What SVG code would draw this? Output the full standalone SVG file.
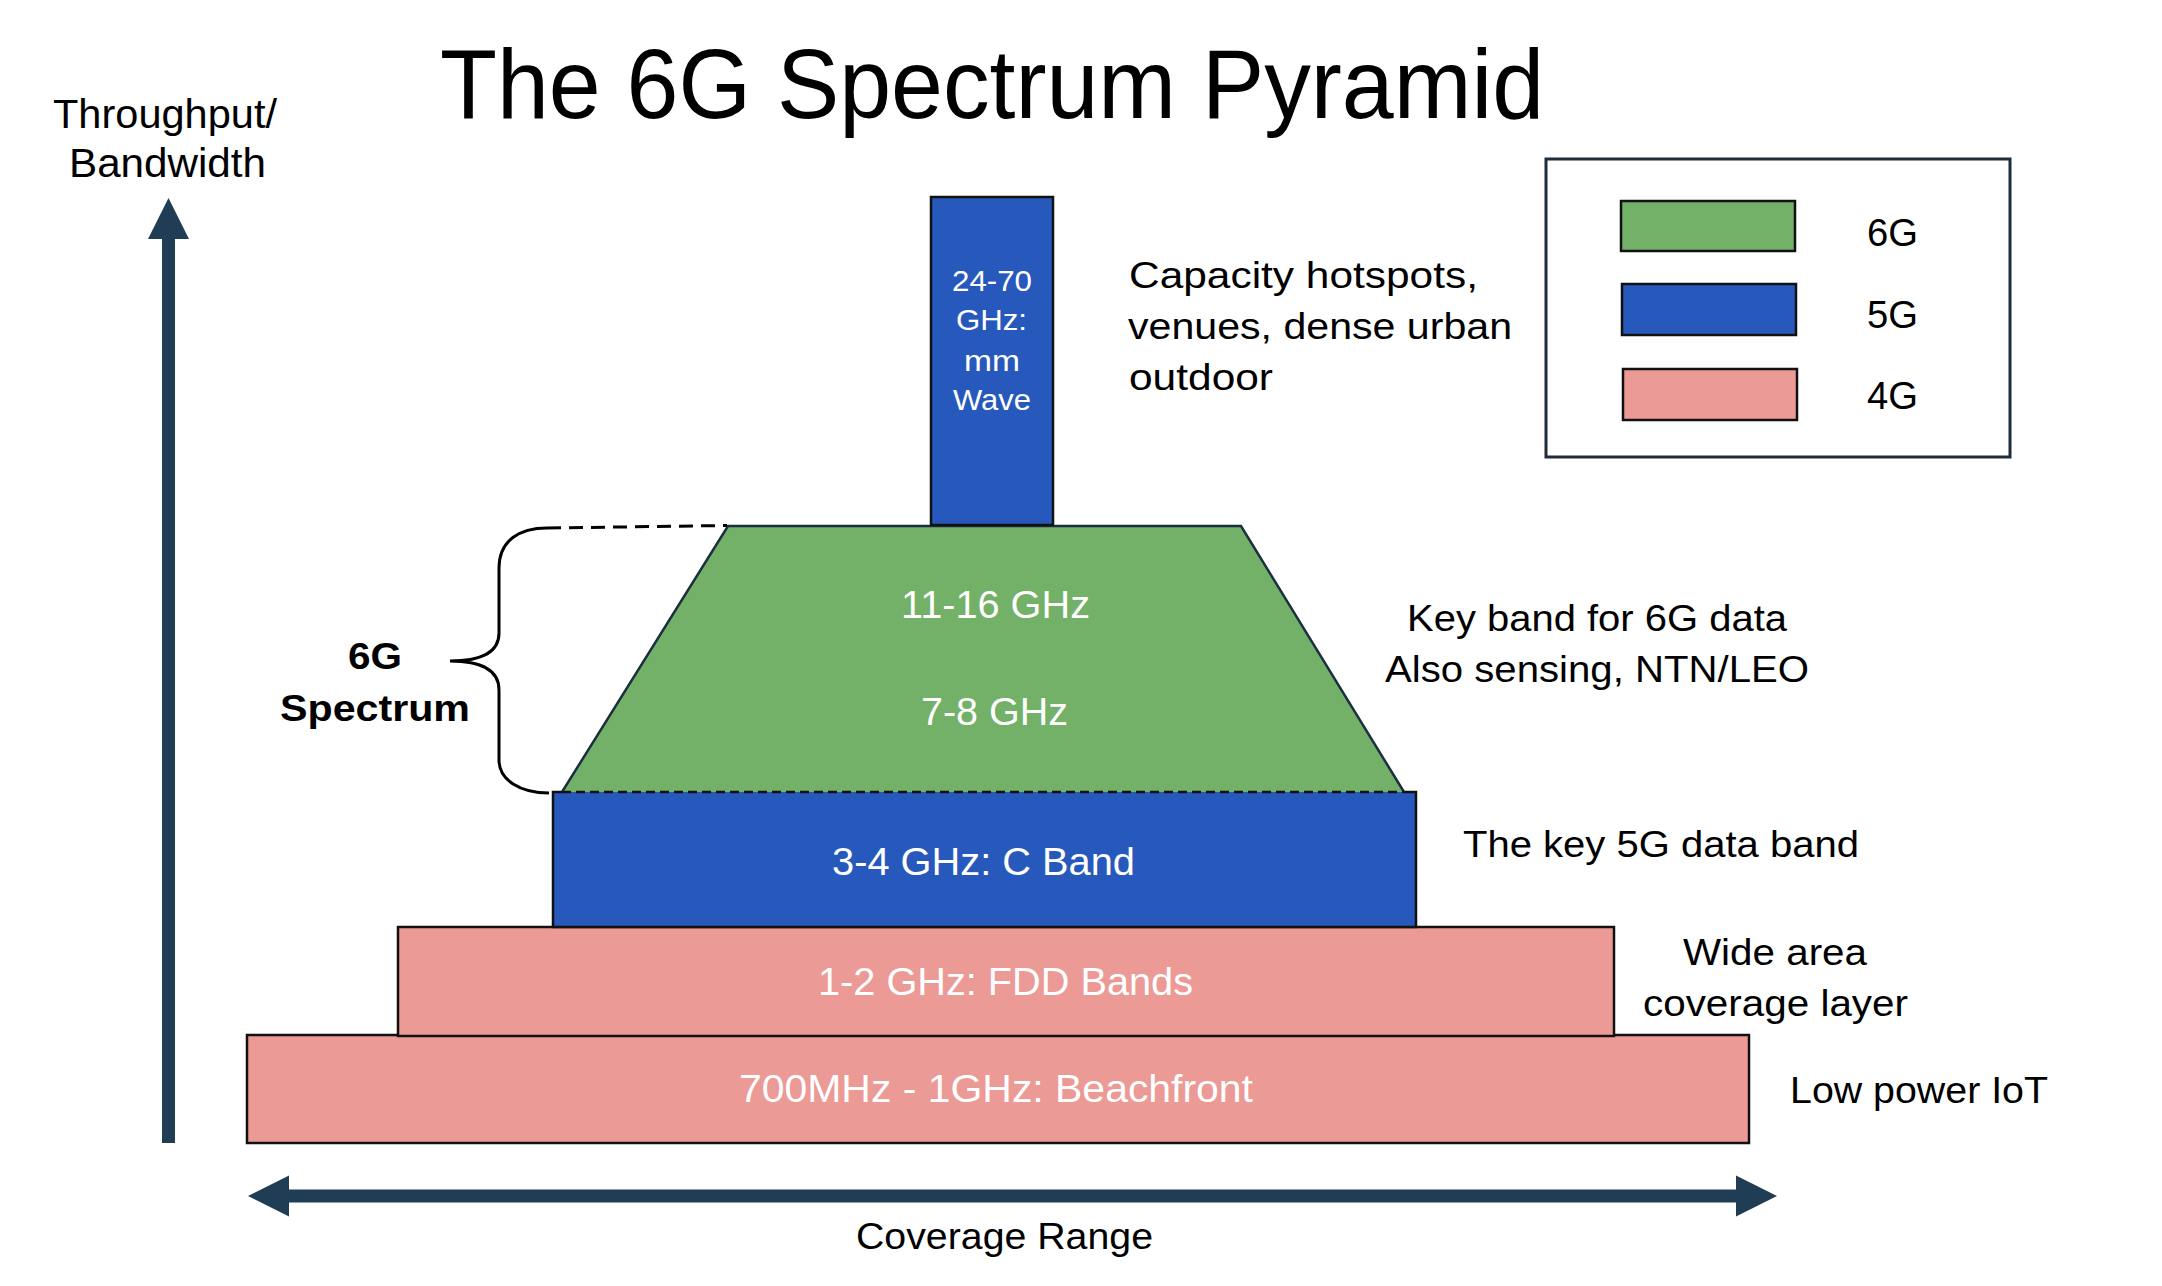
<svg xmlns="http://www.w3.org/2000/svg" width="2162" height="1286" viewBox="0 0 2162 1286">
<style>
  text { font-family: "Liberation Sans", Arial, sans-serif; fill: #000; }
  .w { fill: #ffffff; font-size: 38px; }
  .mm { fill: #ffffff; font-size: 30px; }
  .lbl { font-size: 37px; }
  .g6 { fill: #72b167; }
  .g5 { fill: #2759bd; }
  .g4 { fill: #eb9a96; }
  .edge { stroke: #111; stroke-width: 2.5; }
  .axis { stroke: #213d55; stroke-width: 13; fill: none; }
</style>
<defs>
  <marker id="ah" markerUnits="userSpaceOnUse" markerWidth="42" markerHeight="42" refX="0" refY="20.5" orient="auto-start-reverse" viewBox="0 0 42 41">
    <path d="M0,0 L41,20.5 L0,41 z" fill="#213d55"/>
  </marker>
</defs>
<rect width="2162" height="1286" fill="#ffffff"/>

<text id="title" x="440" y="118" font-size="99" textLength="1104" lengthAdjust="spacingAndGlyphs">The 6G Spectrum Pyramid</text>

<g id="axes">
  <line class="axis" x1="168.5" y1="1143" x2="168.5" y2="239" marker-end="url(#ah)"/>
  <line class="axis" x1="289" y1="1196" x2="1736" y2="1196" marker-start="url(#ah)" marker-end="url(#ah)"/>
  <text x="53" y="128" font-size="41" textLength="224" lengthAdjust="spacingAndGlyphs">Throughput/</text>
  <text x="69" y="177" font-size="41" textLength="197" lengthAdjust="spacingAndGlyphs">Bandwidth</text>
  <text class="lbl" x="856" y="1249" textLength="297" lengthAdjust="spacingAndGlyphs">Coverage Range</text>
</g>

<g id="band-700mhz">
  <rect class="g4 edge" x="247" y="1035" width="1502" height="108"/>
  <text class="w" x="739" y="1102" textLength="514" lengthAdjust="spacingAndGlyphs">700MHz - 1GHz: Beachfront</text>
</g>

<g id="band-fdd">
  <rect class="g4 edge" x="398" y="927" width="1216" height="109"/>
  <text class="w" x="818" y="995" textLength="375" lengthAdjust="spacingAndGlyphs">1-2 GHz: FDD Bands</text>
</g>

<g id="band-cband">
  <rect class="g5" x="553" y="792" width="863" height="135"/>
  <path class="edge" fill="none" d="M562,792 L553,792 L553,927 L1416,927 L1416,792 L1404,792"/>
  <text class="w" x="832" y="875" textLength="303" lengthAdjust="spacingAndGlyphs">3-4 GHz: C Band</text>
</g>

<g id="band-6g">
  <polygon class="g6" points="728,526 1241,526 1404,792 562,792"/>
  <path fill="none" stroke="#1c2f40" stroke-width="2.5" d="M562,792 L728,526 L1241,526 L1404,792"/>
  <line x1="562" y1="792" x2="1404" y2="792" stroke="#111" stroke-width="2.5" stroke-dasharray="9 5"/>
  <text class="w" x="901" y="618" textLength="189" lengthAdjust="spacingAndGlyphs">11-16 GHz</text>
  <text class="w" x="921" y="725" textLength="147" lengthAdjust="spacingAndGlyphs">7-8 GHz</text>
</g>

<g id="band-mmwave">
  <rect class="g5 edge" x="931" y="197" width="122" height="328"/>
  <text class="mm" x="952" y="291" textLength="80" lengthAdjust="spacingAndGlyphs">24-70</text>
  <text class="mm" x="956" y="330" textLength="71" lengthAdjust="spacingAndGlyphs">GHz:</text>
  <text class="mm" x="964" y="371" textLength="56" lengthAdjust="spacingAndGlyphs">mm</text>
  <text class="mm" x="953" y="410" textLength="78" lengthAdjust="spacingAndGlyphs">Wave</text>
</g>

<g id="spectrum-brace">
  <path d="M547,528 C520,528 499,540 499,568 L499,633 C499,650 485,661 450,661 C485,661 499,672 499,690 L499,760 C499,780 520,793 549,793" fill="none" stroke="#000" stroke-width="3"/>
  <line x1="547" y1="528" x2="727" y2="525.5" stroke="#000" stroke-width="3" stroke-dasharray="14 8"/>
  <text x="348" y="669" font-size="37" font-weight="bold" textLength="54" lengthAdjust="spacingAndGlyphs">6G</text>
  <text x="280" y="721" font-size="37" font-weight="bold" textLength="190" lengthAdjust="spacingAndGlyphs">Spectrum</text>
</g>

<g id="notes">
  <text class="lbl" x="1129" y="288" textLength="349" lengthAdjust="spacingAndGlyphs">Capacity hotspots,</text>
  <text class="lbl" x="1128" y="339" textLength="384" lengthAdjust="spacingAndGlyphs">venues, dense urban</text>
  <text class="lbl" x="1129" y="390" textLength="144" lengthAdjust="spacingAndGlyphs">outdoor</text>
  <text class="lbl" x="1407" y="631" textLength="380" lengthAdjust="spacingAndGlyphs">Key band for 6G data</text>
  <text class="lbl" x="1385" y="682" textLength="424" lengthAdjust="spacingAndGlyphs">Also sensing, NTN/LEO</text>
  <text class="lbl" x="1463" y="857" textLength="396" lengthAdjust="spacingAndGlyphs">The key 5G data band</text>
  <text class="lbl" x="1683" y="965" textLength="184" lengthAdjust="spacingAndGlyphs">Wide area</text>
  <text class="lbl" x="1643" y="1016" textLength="265" lengthAdjust="spacingAndGlyphs">coverage layer</text>
  <text class="lbl" x="1790" y="1103" textLength="258" lengthAdjust="spacingAndGlyphs">Low power IoT</text>
</g>

<g id="legend">
  <rect x="1546" y="159" width="464" height="298" fill="#fff" stroke="#1f2d3a" stroke-width="3"/>
  <rect class="g6 edge" x="1621" y="201" width="174" height="50"/>
  <rect class="g5 edge" x="1622" y="284" width="174" height="51"/>
  <rect class="g4 edge" x="1623" y="369" width="174" height="51"/>
  <text x="1867" y="246" font-size="38" textLength="51" lengthAdjust="spacingAndGlyphs">6G</text>
  <text x="1867" y="328" font-size="38" textLength="51" lengthAdjust="spacingAndGlyphs">5G</text>
  <text x="1867" y="409" font-size="38" textLength="51" lengthAdjust="spacingAndGlyphs">4G</text>
</g>
</svg>
